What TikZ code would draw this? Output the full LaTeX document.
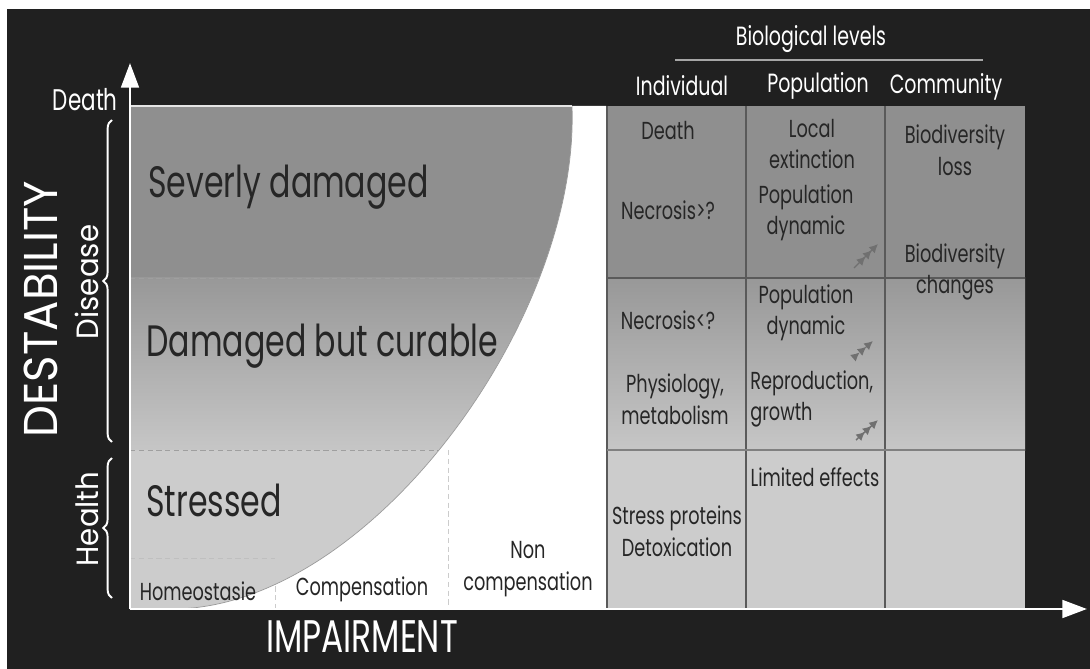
\documentclass[tikz,border=0pt]{standalone}
\usepackage{fontspec}
\setmainfont{Poppins}[FakeStretch=0.72]
\newfontfamily\wideface{Poppins}[FakeStretch=0.95]
\usepackage{tikz}
\usetikzlibrary{arrows.meta, positioning, calc, decorations.pathreplacing}
\usepackage{xcolor}
\definecolor{bgDark}{RGB}{32,32,32}
\definecolor{bandTop}{RGB}{143,143,143}
\definecolor{bandMidA}{RGB}{152,152,152}
\definecolor{bandMidB}{RGB}{198,198,198}
\definecolor{bandLow}{RGB}{204,204,204}
\definecolor{gridGray}{RGB}{90,90,90}
\definecolor{inkGray}{RGB}{38,38,38}
\definecolor{markGray}{RGB}{112,112,112}

\begin{document}
\begin{tikzpicture}[x=0.02cm, y=-0.02cm,
    zone/.style={font=\fontsize{25}{28}\selectfont, text=inkGray, anchor=west, inner sep=0pt},
    small/.style={font=\fontsize{14}{18}\selectfont, text=inkGray, align=center, inner sep=0pt},
    head/.style={font=\fontsize{15}{18}\selectfont, text=white, inner sep=0pt},
    side/.style={font=\wideface\fontsize{17.5}{18}\selectfont, text=white, rotate=90, inner sep=0pt},
    axis/.style={draw=white, line width=1.7pt, -{Triangle[length=14pt, width=10pt]}},
    level/.style={draw=white, line width=1.1pt, decorate, decoration={brace, amplitude=5pt}},
    sep/.style={draw=gray!75, line width=0.4pt, densely dashed},
    trend/.style={draw=markGray, line width=0.8pt,
                  -{Latex[length=5pt,width=5pt]Latex[length=5pt,width=5pt]Latex[length=5pt,width=5pt]}}
  ]
    \useasboundingbox (0,0) rectangle (1090,669);
    \fill[bgDark] (7,9) rectangle (1090,669);

    % destability bands
    \fill[bandTop] (130,106) rectangle (1025,278);
    \shade[top color=bandMidA, bottom color=bandMidB] (130,278) rectangle (1025,450);
    \fill[bandLow] (130,450) rectangle (1025,609);
    \draw[sep] (130,278) -- (600,278);
    \draw[sep] (130,450) -- (600,450);
    \draw[sep, gray!50] (130,558) -- (275,558);

    % impairment curve
    \fill[white] (175,609) .. controls (370,606) and (580,320) .. (572,106)
        -- (606,106) -- (606,609) -- cycle;
    \draw[gray!80, line width=0.4pt] (175,609) .. controls (370,606) and (580,320) .. (572,106);
    \draw[white!80!gray, line width=1pt] (130,106) -- (572,106);
    \draw[sep, gray!40] (275,560) -- (275,609);
    \draw[sep, gray!40] (448,450) -- (448,609);

    % table grid
    \draw[gridGray, line width=0.6pt] (607,106) -- (607,609);
    \draw[gridGray, line width=0.6pt] (746,106) -- (746,609);
    \draw[gridGray, line width=0.6pt] (885,106) -- (885,609);
    \draw[gridGray, line width=0.7pt] (607,278) -- (1025,278);
    \draw[gray, line width=1.2pt] (607,450) -- (1025,450);

    % axes
    \coordinate (O) at (130,609);
    \coordinate (ytip) at (130,63);
    \coordinate (xtip) at (1087,609);
    \draw[axis] (O) -- (ytip);
    \draw[axis] (O) -- (xtip);

    \node[head, anchor=east, font=\fontsize{17}{18}\selectfont] (death) at (118,100) {Death};
    \node[side, font=\wideface\fontsize{27}{30}\selectfont] (destab) at (41,309) {DESTABILITY};
    \node[side] (disease) at (87,282) {Disease};
    \node[side] (health) at (87,519) {Health};
    \draw[level] (112,442) -- (112,120);
    \draw[level] (112,598) -- (112,458);
    \node[head, font=\fontsize{26}{28}\selectfont] (impair) at (362,637) {IMPAIRMENT};

    \node[zone] (severe) at (148,187) {Severly damaged};
    \node[zone] (curable) at (146,346) {Damaged but curable};
    \node[zone] (stressed) at (146,500) {Stressed};
    \node[small] (homeo) at (198,591) {Homeostasie};
    \node[small] (comp) at (362,589) {Compensation};
    \node[small] (noncomp) at (528,569) {Non\\compensation};

    % biological levels
    \node[head] (levels) at (811,39) {Biological levels};
    \coordinate (rule-a) at (675,60);
    \coordinate (rule-b) at (983,60);
    \draw[gray!70, line width=0.8pt] (rule-a) -- (rule-b);
    \node[head] (indiv) at (682,86) {Individual};
    \node[head] (popul) at (818,86) {Population};
    \node[head] (commu) at (946,87) {Community};

    \node[small] (c11) at (668,131) {Death};
    \node[small] (c12) at (668,210) {Necrosis>?};
    \node[small] (c21) at (812,144) {Local\\extinction};
    \node[small] (c22) at (806,213) {Population\\dynamic};
    \node[small] (c31) at (955,150) {Biodiversity\\loss};
    \node[small] (c32) at (955,272) {Biodiversity\\changes};
    \node[small] (c13) at (668,320) {Necrosis<?};
    \node[small] (c23) at (806,313) {Population\\dynamic};
    \node[small] (c14) at (675,399) {Physiology,\\metabolism};
    \node[small, align=left, anchor=west] (c24) at (750,399) {Reproduction,\\growth};
    \node[small] (c25) at (815,477) {Limited effects};
    \node[small] (c15) at (677,531) {Stress proteins\\Detoxication};

    \coordinate (t1a) at (854,268);
    \coordinate (t1b) at (878,244);
    \coordinate (t2a) at (866,347);
    \coordinate (t2b) at (873,341);
    \coordinate (t3a) at (856,440);
    \coordinate (t3b) at (878,420);
    \draw[trend] (t1a) -- (t1b);
    \draw[trend] (t2a) -- (t2b);
    \draw[trend] (t3a) -- (t3b);
  \end{tikzpicture}
\end{document}
